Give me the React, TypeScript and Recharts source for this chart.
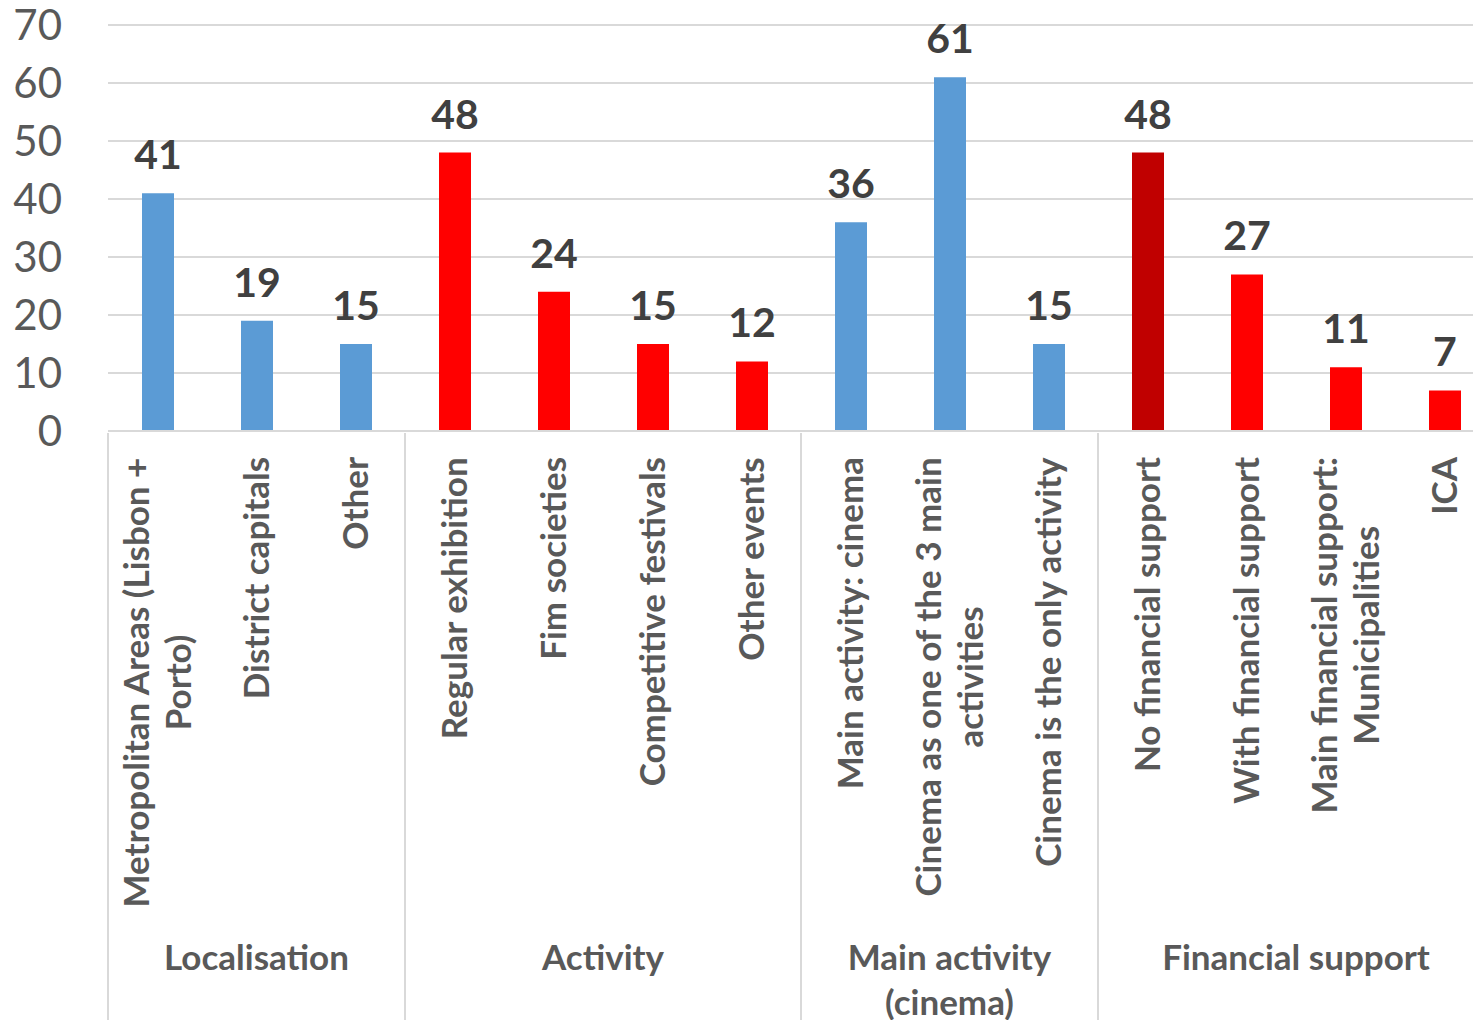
import { Bar, BarChart, CartesianGrid, Cell, LabelList, XAxis, YAxis } from "recharts";

const groupNames = ["Localisation", "Activity", "Main activity (cinema)", "Financial support"];
const groupSizes = [3, 4, 3, 4];

const categories = [
  "Metropolitan Areas (Lisbon + Porto)",
  "District capitals",
  "Other",
  "Regular exhibition",
  "Fim societies",
  "Competitive festivals",
  "Other events",
  "Main activity: cinema",
  "Cinema as one of the 3 main activities",
  "Cinema is the only activity",
  "No financial support",
  "With financial support",
  "Main financial support: Municipalities",
  "ICA",
];
const values = [41, 19, 15, 48, 24, 15, 12, 36, 61, 15, 48, 27, 11, 7];
const yTicks = [0, 10, 20, 30, 40, 50, 60, 70];

const BLUE = "#5B9BD5";
const RED = "#FF0000";
const DARK_RED = "#C00000";
const barColors = [BLUE, BLUE, BLUE, RED, RED, RED, RED, BLUE, BLUE, BLUE, DARK_RED, RED, RED, RED];

const data = categories.map((name, i) => ({ name, value: values[i] }));

const CHART_W = 1490;
const CHART_H = 1040;
const MARGIN = { top: 25, right: 4, bottom: 0, left: 0 };
const Y_AXIS_W = 100;
const BAND = (CHART_W - MARGIN.left - MARGIN.right - Y_AXIS_W) / categories.length;

const groupStart: number[] = [];
let acc = 0;
groupSizes.forEach((s) => {
  groupStart.push(acc);
  acc += s;
});

const FONT = "Lato, 'Open Sans', sans-serif";
const LABEL_SIZE = 35;
const LABEL_WEIGHT = 700;
const GRID = "#D9D9D9";

let ctx: CanvasRenderingContext2D | null = null;
function measure(text: string, font: string) {
  if (!ctx) ctx = document.createElement("canvas").getContext("2d");
  if (!ctx) return text.length * 17;
  ctx.font = font;
  return ctx.measureText(text).width;
}

function wrap(text: string, font: string, max: number) {
  const words = text.split(" ");
  const lines: string[] = [];
  let cur = "";
  for (const w of words) {
    const t = cur ? cur + " " + w : w;
    if (cur && measure(t, font) > max) {
      lines.push(cur);
      cur = w;
    } else {
      cur = t;
    }
  }
  if (cur) lines.push(cur);
  return lines;
}

function CategoryTick({ x, y, payload, index }: any) {
  const font = `${LABEL_WEIGHT} ${LABEL_SIZE}px Lato`;
  const lines = wrap(String(payload.value), font, 520);
  const longest = Math.max(...lines.map((l) => measure(l, font)));
  const capHalf = LABEL_SIZE * 0.36;
  const lineGap = 42;
  const isGroupStart = groupStart.includes(index);
  const isLast = index === categories.length - 1;
  return (
    <g transform={`translate(${x},${y})`}>
      {isGroupStart && <line x1={-BAND / 2} x2={-BAND / 2} y1={0} y2={700} stroke={GRID} strokeWidth={2} />}
      {isLast && <line x1={BAND / 2} x2={BAND / 2} y1={0} y2={700} stroke={GRID} strokeWidth={2} />}
      {lines.map((line, i) => (
        <text
          key={i}
          transform="rotate(-90)"
          x={-(24 + longest / 2)}
          y={capHalf + (i - (lines.length - 1) / 2) * lineGap}
          textAnchor="middle"
          fill="#595959"
          fontFamily={FONT}
          fontSize={LABEL_SIZE}
          fontWeight={LABEL_WEIGHT}
        >
          {line}
        </text>
      ))}
    </g>
  );
}

function GroupTick({ x, y, index }: any) {
  const g = groupStart.indexOf(index);
  if (g < 0) return <g />;
  const size = groupSizes[g];
  const font = `${LABEL_WEIGHT} ${LABEL_SIZE}px Lato`;
  const lines = wrap(groupNames[g], font, size * BAND - 20);
  const cx = -BAND / 2 + (size * BAND) / 2;
  return (
    <g transform={`translate(${x},${y})`}>
      {lines.map((line, i) => (
        <text
          key={i}
          x={cx}
          y={43 + i * 45}
          textAnchor="middle"
          fill="#595959"
          fontFamily={FONT}
          fontSize={LABEL_SIZE}
          fontWeight={LABEL_WEIGHT}
        >
          {line}
        </text>
      ))}
    </g>
  );
}

export default function App() {
  return (
    <div style={{ width: 1473, height: 1020, marginTop: -8, overflow: "hidden", background: "#fff" }}>
      <BarChart width={CHART_W} height={CHART_H} data={data} margin={MARGIN}>
        <CartesianGrid vertical={false} stroke={GRID} strokeWidth={2} />
        <XAxis
          dataKey="name"
          height={494}
          interval={0}
          tickLine={false}
          tickSize={0}
          axisLine={{ stroke: GRID, strokeWidth: 2 }}
          tick={(p: any) => <CategoryTick {...p} />}
        />
        <XAxis
          xAxisId="group"
          dataKey="name"
          height={115}
          interval={0}
          tickLine={false}
          tickSize={0}
          axisLine={false}
          tick={(p: any) => <GroupTick {...p} />}
        />
        <YAxis
          width={Y_AXIS_W}
          domain={[0, 70]}
          ticks={yTicks}
          interval={0}
          axisLine={false}
          tickLine={false}
          tickSize={0}
          tickMargin={46}
          tick={{ fill: "#595959", fontSize: 42, fontFamily: FONT }}
        />
        <Bar dataKey="value" barSize={32} isAnimationActive={false}>
          {data.map((d, i) => (
            <Cell key={d.name} fill={barColors[i]} />
          ))}
          <LabelList
            dataKey="value"
            position="top"
            offset={24}
            fill="#404040"
            fontSize={41}
            fontWeight={700}
            fontFamily={FONT}
          />
        </Bar>
      </BarChart>
    </div>
  );
}
